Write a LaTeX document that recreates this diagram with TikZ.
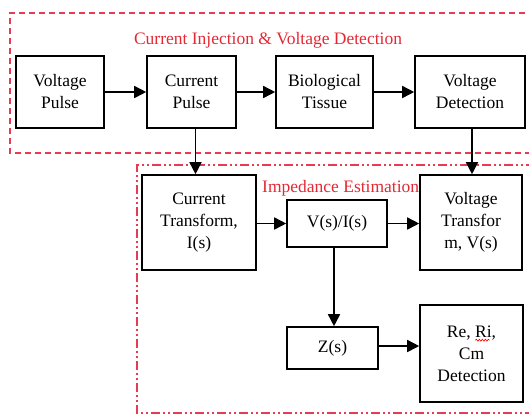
\documentclass[tikz,border=0pt]{standalone}
\usepackage{fontspec}
\setmainfont{Liberation Serif}
\newfontfamily\tms{Liberation Serif}
\usetikzlibrary{arrows.meta,decorations.pathmorphing}
\definecolor{grpred}{RGB}{232,58,82}
\definecolor{lblred}{RGB}{228,40,52}
\tikzset{
  blk/.style={draw=black, line width=1.6pt, fill=white, align=center, inner sep=0pt,
    font=\tms\fontsize{17.5}{22}\selectfont},
  arr/.style={line width=1.6pt, -{Triangle[length=12pt,width=12pt]}},
  grp/.style={draw=grpred, line width=1.3pt, dash pattern=on 6pt off 4pt},
  grp2/.style={draw=grpred, line width=1.3pt, dash pattern=on 9pt off 3pt on 2pt off 3pt on 2pt off 3pt},
  lbl/.style={text=lblred, font=\tms\fontsize{17.5}{20}\selectfont, inner sep=0pt}
}
\begin{document}
\begin{tikzpicture}[x=1pt,y=-1pt]
\useasboundingbox (0,0) rectangle (529,416);
% group frames (open at the right, where the picture is cut)
\draw[grp] (535,13) -- (10,13) -- (10,153) -- (535,153);
\draw[grp2] (535,165) -- (137,165) -- (137,413) -- (535,413);
% labels
\node[lbl] (t1) at (268,40) {Current Injection \& Voltage Detection};
\node[lbl, anchor=west] (t2) at (262,188) {Impedance Estimation};
% top row
\node[blk, minimum width=88pt, minimum height=72pt] (vp) at (60,92) {Voltage\\Pulse};
\node[blk, minimum width=89pt, minimum height=72pt] (cp) at (191.5,92) {Current\\Pulse};
\node[blk, minimum width=97pt, minimum height=72pt] (bt) at (324.5,92) {Biological\\Tissue};
\node[blk, minimum width=110pt, minimum height=72pt] (vd) at (470,92) {Voltage\\Detection};
% lower part
\node[blk, minimum width=114pt, minimum height=95pt] (ct) at (199,222.5) {Current\\Transform,\\I(s)};
\node[blk, minimum width=100pt, minimum height=47pt] (vi) at (337,223.5) {V(s)/I(s)};
\node[blk, minimum width=102pt, minimum height=95pt] (vt) at (471,222.5) {Voltage\\Transfor\\m, V(s)};
\node[blk, minimum width=91pt, minimum height=42pt] (zs) at (332.5,348) {Z(s)};
\node[blk, minimum width=103pt, minimum height=97pt] (rc) at (471.5,353.5) {Re, \smash{\rlap{\raisebox{-3pt}{\tikz[baseline]\draw[red,line width=0.6pt,decorate,decoration={snake,amplitude=1pt,segment length=3pt}] (0,0)--(14pt,0);}}}Ri,\\Cm\\Detection};
% connectors
\draw[arr] (vp.east) -- (cp.west);
\draw[arr] (cp.east) -- (bt.west);
\draw[arr] (bt.east) -- (vd.west);
\draw[arr] ([xshift=4pt]cp.south) -- ([xshift=4pt]cp.south |- ct.north);
\draw[arr] ([xshift=2pt]vd.south) -- ([xshift=2pt]vd.south |- vt.north);
\draw[arr] (ct.east |- vi.west) -- (vi.west);
\draw[arr] (vi.east) -- (vi.east -| vt.west);
\draw[arr] ([xshift=-3pt]vi.south) -- ([xshift=-3pt]vi.south |- zs.north);
\draw[arr] ([yshift=2pt]zs.east) -- ([yshift=2pt]zs.east -| rc.west);
\end{tikzpicture}
\end{document}
